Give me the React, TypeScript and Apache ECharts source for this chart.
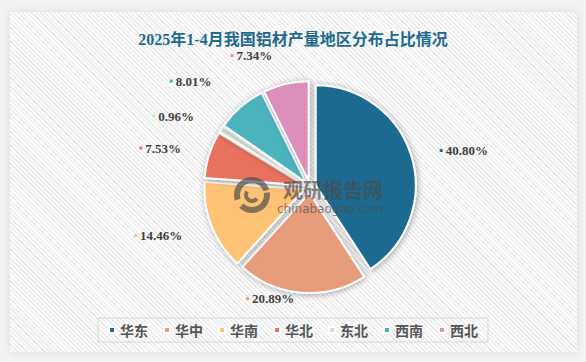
import React, { useEffect, useRef } from 'react';
import * as echarts from 'echarts';

const titleText = '2025年1-4月我国铝材产量地区分布占比情况';
const regions = ['华东', '华中', '华南', '华北', '东北', '西南', '西北'];
const shares = [40.8, 20.89, 14.46, 7.53, 0.96, 8.01, 7.34];
const colors = ['#1c6b8f', '#e79c7b', '#fec275', '#e87261', '#d0e4cf', '#4bb3be', '#dc8fbb'];
const labelLineLengths = [22, 6, 24, 22, 24, 34, 29];
const watermarkCn = '观研报告网';
const watermarkEn = 'chinabaogao.com';

export default function App() {
  const ref = useRef<HTMLDivElement>(null);

  useEffect(() => {
    document.body.style.margin = '0';
    if (!ref.current) return;
    const chart = echarts.init(ref.current, undefined, { renderer: 'svg' });

    const rich: Record<string, any> = {
      g: { width: 3 },
      t: {
        fontFamily: "'Liberation Serif', serif",
        fontWeight: 'bold',
        fontSize: 13,
        color: '#404040',
      },
    };
    colors.forEach((c, i) => {
      rich['m' + i] = { width: 3, height: 3, backgroundColor: c, lineHeight: 3 };
    });

    const wmGray = 'rgba(75,75,75,0.68)';
    const wmZ = 100;

    chart.setOption({
      animation: false,
      backgroundColor: 'transparent',
      title: {
        text: titleText,
        left: 'center',
        top: 26,
        textStyle: {
          fontFamily: "'Liberation Serif', 'Noto Sans CJK SC', serif",
          fontWeight: 'bold',
          fontSize: 16,
          color: '#1e6a8d',
        },
      },
      legend: {
        data: regions,
        left: 'center',
        top: 318,
        icon: 'rect',
        itemWidth: 6,
        itemHeight: 6,
        itemGap: 15,
        padding: [5, 10],
        borderColor: '#d6d6d6',
        borderWidth: 1,
        textStyle: {
          fontFamily: "'Noto Sans CJK SC', sans-serif",
          fontWeight: 'bold',
          fontSize: 14,
          color: '#555555',
        },
      },
      graphic: [
        {
          type: 'arc',
          z: wmZ,
          silent: true,
          shape: { cx: 252, cy: 195, r: 15, startAngle: Math.PI * 0.9, endAngle: Math.PI * 1.9 },
          style: { stroke: wmGray, lineWidth: 6, fill: null },
        },
        {
          type: 'arc',
          z: wmZ,
          silent: true,
          shape: { cx: 252, cy: 195, r: 15, startAngle: Math.PI * 1.95, endAngle: Math.PI * 2.75 },
          style: { stroke: wmGray, lineWidth: 6, fill: null },
        },
        {
          type: 'arc',
          z: wmZ,
          silent: true,
          shape: { cx: 252, cy: 195, r: 6, startAngle: Math.PI * 0.2, endAngle: Math.PI * 1.2 },
          style: { stroke: wmGray, lineWidth: 4, fill: null },
        },
        {
          type: 'text',
          z: wmZ,
          silent: true,
          x: 283,
          y: 179,
          style: {
            text: watermarkCn,
            fontFamily: "'Noto Sans CJK SC', sans-serif",
            fontWeight: 'bold',
            fontSize: 20,
            fill: wmGray,
          },
        },
        {
          type: 'text',
          z: wmZ,
          silent: true,
          x: 277,
          y: 203,
          style: {
            text: watermarkEn,
            fontFamily: "'DejaVu Sans', sans-serif",
            fontSize: 12,
            fill: wmGray,
          },
        },
      ],
      series: [
        {
          type: 'pie',
          center: [310, 187],
          radius: [0, 100],
          startAngle: 90,
          clockwise: true,
          selectedMode: 'multiple',
          selectedOffset: 6,
          avoidLabelOverlap: true,
          itemStyle: {
            borderColor: '#ffffff',
            borderWidth: 2,
            shadowBlur: 6,
            shadowColor: 'rgba(0,0,0,0.35)',
            shadowOffsetX: 1,
            shadowOffsetY: 1,
          },
          emphasis: { disabled: true },
          label: {
            show: true,
            position: 'outside',
            formatter: (p: any) => `{m${p.dataIndex}| }{g| }{t|${Number(p.value).toFixed(2)}%}`,
            rich,
          },
          labelLine: { show: false, length: 24, length2: 2 },
          data: regions.map((name, i) => ({
            name,
            value: shares[i],
            selected: true,
            itemStyle: { color: colors[i] },
            labelLine: { show: false, length: labelLineLengths[i], length2: 2 },
          })),
        },
      ],
    });

    return () => chart.dispose();
  }, []);

  return (
    <div style={{ position: 'fixed', left: 0, top: 0, width: 586, height: 362, background: '#f3f3f3', overflow: 'hidden' }}>
      <div
        style={{
          position: 'absolute',
          left: 10,
          top: 12,
          width: 567,
          height: 340,
          backgroundColor: '#ffffff',
          backgroundImage: 'repeating-linear-gradient(45deg, #ffffff 0px, #ffffff 1.6px, #ececec 1.6px, #ececec 3.2px)',
          boxShadow: '0 0 8px rgba(0,0,0,0.10)',
        }}
      />
      <div ref={ref} style={{ position: 'absolute', left: 0, top: 0, width: 586, height: 362 }} />
    </div>
  );
}
